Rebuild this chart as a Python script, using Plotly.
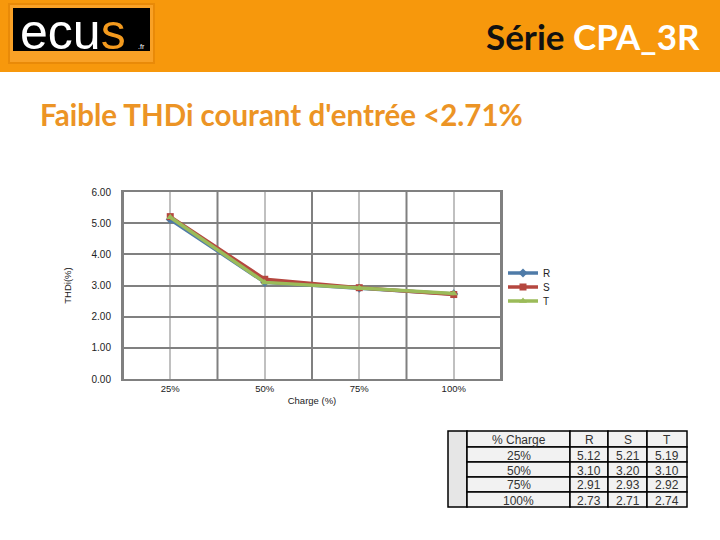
import plotly.graph_objects as go

# ---- data ----
charges = ["25%", "50%", "75%", "100%"]
R_vals = [5.12, 3.10, 2.91, 2.73]
S_vals = [5.21, 3.20, 2.93, 2.71]
T_vals = [5.19, 3.10, 2.92, 2.74]
series_names = ["R", "S", "T"]
y_ticks = [0, 1, 2, 3, 4, 5, 6]

W, H = 720, 540
L, Rm, T, B = 123, 219, 192, 161
PW, PH = W - L - Rm, H - T - B


def px(x):
    return (x - L) / PW


def py(y):
    return (H - B - y) / PH


colors = ["#4F7BA8", "#B5473F", "#9BBB59"]
symbols = ["diamond", "square", "triangle-up"]
legend_ids = ["legend", "legend2", "legend3"]
legend_y = [273, 287, 301]
xs = list(range(len(charges)))

fig = go.Figure()
for name, vals, c, s, lg in zip(series_names, [R_vals, S_vals, T_vals], colors, symbols, legend_ids):
    fig.add_trace(go.Scatter(x=xs, y=vals, name=name, mode="lines+markers", legend=lg,
                             line=dict(color=c, width=3.5),
                             marker=dict(symbol=s, size=7, color=c)))

shapes = []
ann = []

# header band
shapes.append(dict(type="rect", xref="paper", yref="paper", x0=px(0), x1=px(W), y0=py(72), y1=py(0),
                   fillcolor="#F7980C", line=dict(width=0), layer="below"))
# logo
shapes.append(dict(type="rect", xref="paper", yref="paper", x0=px(8), x1=px(155), y0=py(64), y1=py(3),
                   fillcolor="#E98A08", line=dict(width=0), layer="below"))
shapes.append(dict(type="rect", xref="paper", yref="paper", x0=px(10), x1=px(153), y0=py(62), y1=py(5),
                   fillcolor="#F9A126", line=dict(width=0), layer="below"))
shapes.append(dict(type="rect", xref="paper", yref="paper", x0=px(13), x1=px(150), y0=py(51), y1=py(8),
                   fillcolor="#000000", line=dict(width=0), layer="below"))
ann.append(dict(xref="paper", yref="paper", x=px(18), y=py(32), xanchor="left", yanchor="middle",
                text="ecu<span style='color:#F39A1E'>s</span>", showarrow=False,
                font=dict(family="Liberation Sans, Arial", size=50, color="white")))
ann.append(dict(xref="paper", yref="paper", x=px(147), y=py(46), xanchor="right", yanchor="middle",
                text=".fr", showarrow=False, font=dict(family="Arial", size=7, color="white")))

# titles
ann.append(dict(xref="paper", yref="paper", x=px(702), y=py(36), xanchor="right", yanchor="middle",
                text="<b>Série <span style='color:white'>CPA_3R</span></b>", showarrow=False,
                font=dict(family="Lato, Open Sans", size=35, color="#111111")))
ann.append(dict(xref="paper", yref="paper", x=px(38), y=py(115), xanchor="left", yanchor="middle",
                text="<b>Faible THDi courant d'entrée &lt;2.71%</b>", showarrow=False,
                font=dict(family="Lato, Open Sans", size=29.5, color="#EC9425")))

# table
col_edges = [448, 467, 570, 608, 647, 687]
row_edges = [431, 447, 462, 477, 492, 507]
shapes.append(dict(type="rect", xref="paper", yref="paper", x0=px(col_edges[0]), x1=px(col_edges[1]),
                   y0=py(row_edges[-1]), y1=py(row_edges[0]), fillcolor="#E6E6E6",
                   line=dict(color="black", width=1.5)))
table_cols = [["% Charge"] + charges,
              ["R"] + [f"{v:.2f}" for v in R_vals],
              ["S"] + [f"{v:.2f}" for v in S_vals],
              ["T"] + [f"{v:.2f}" for v in T_vals]]
for ci, col in enumerate(table_cols):
    x0, x1 = col_edges[ci + 1], col_edges[ci + 2]
    for ri, txt in enumerate(col):
        y0, y1 = row_edges[ri], row_edges[ri + 1]
        shapes.append(dict(type="rect", xref="paper", yref="paper", x0=px(x0), x1=px(x1),
                           y0=py(y1), y1=py(y0), fillcolor="#F2F2F2",
                           line=dict(color="black", width=1.5)))
        ann.append(dict(xref="paper", yref="paper", x=px((x0 + x1) / 2), y=py((y0 + y1) / 2 + 1),
                        xanchor="center", yanchor="middle", text=txt, showarrow=False,
                        font=dict(family="Arial", size=12, color="#333333")))

# dark category boundary gridlines
for b in [-0.5, 0.5, 1.5, 2.5, 3.5]:
    shapes.append(dict(type="line", xref="x", yref="paper", x0=b, x1=b, y0=0, y1=1,
                       line=dict(color="#808080", width=2), layer="below"))

legend_common = dict(xanchor="left", yanchor="middle",
                     font=dict(family="Arial", size=10, color="#222"),
                     itemwidth=30, bgcolor="rgba(0,0,0,0)")
legend_layout = {}
for lg, ly in zip(legend_ids, legend_y):
    legend_layout[lg] = dict(x=px(503), y=py(ly), **legend_common)

fig.update_layout(
    width=W, height=H, margin=dict(l=L, r=Rm, t=T, b=B),
    paper_bgcolor="white", plot_bgcolor="white",
    shapes=shapes, annotations=ann,
    showlegend=True,
    xaxis=dict(range=[-0.5, 3.5], tickvals=xs, ticktext=charges, showgrid=True,
               gridcolor="#C0C0C0", gridwidth=2, zeroline=False, showline=True,
               linecolor="#808080", linewidth=2, mirror=True, ticks="",
               tickfont=dict(family="Arial", size=9.5, color="#222"),
               title=dict(text="Charge (%)", font=dict(family="Arial", size=9.5, color="#222"), standoff=4)),
    yaxis=dict(range=[0, 6], tickvals=y_ticks, ticktext=[f"{v:.2f}" for v in y_ticks],
               showgrid=True, gridcolor="#808080", gridwidth=2, zeroline=False, showline=True,
               linecolor="#808080", linewidth=2, mirror=True, ticks="", ticklabelstandoff=8,
               tickfont=dict(family="Arial", size=10, color="#222"),
               title=dict(text="THDi(%)", font=dict(family="Arial", size=9.5, color="#222"), standoff=18)),
    **legend_layout,
)

fig.write_html("out.html", config={"displayModeBar": False},
               post_script="document.body.style.margin='0';document.body.style.padding='0';")
